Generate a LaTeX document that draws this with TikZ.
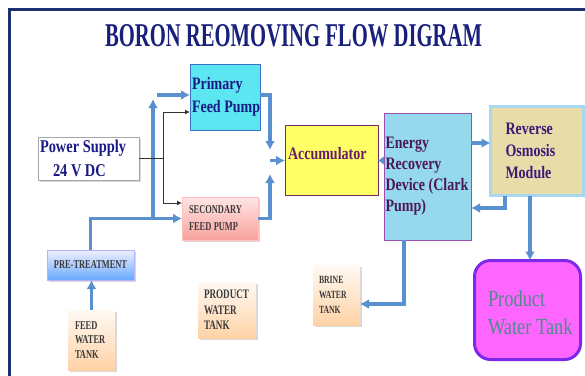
\documentclass[tikz,border=0pt]{standalone}
\usepackage{fontspec}
\setmainfont{Liberation Serif}
\newfontfamily\cf[FakeStretch=0.8]{Liberation Serif}
\newfontfamily\cs[FakeStretch=0.7]{Liberation Serif}
\newcommand\wsp{\hspace*{0.2em}}
\usetikzlibrary{arrows.meta,shadows}
\definecolor{framec}{HTML}{1D2F6F}
\definecolor{titlec}{HTML}{18207C}
\definecolor{flowc}{HTML}{5A8FD0}
\definecolor{primc}{HTML}{5CE6F2}
\definecolor{primb}{HTML}{3A70C8}
\definecolor{txtnavy}{HTML}{1A1A86}
\definecolor{txtgray}{HTML}{3A3A3A}
\definecolor{accc}{HTML}{FFFF66}
\definecolor{accb}{HTML}{7A2A6A}
\definecolor{acct}{HTML}{6A1B6A}
\definecolor{erdc}{HTML}{96D8EC}
\definecolor{erdb}{HTML}{9B4FB5}
\definecolor{erdt}{HTML}{4A1A5A}
\definecolor{roc}{HTML}{E8DCA8}
\definecolor{rob}{HTML}{A8D8F0}
\definecolor{rot}{HTML}{3D1A78}
\definecolor{ptc}{HTML}{FF66FF}
\definecolor{ptb}{HTML}{7C2AE8}
\definecolor{ptt}{HTML}{4F8A8A}
\begin{document}
\begin{tikzpicture}[x=1pt,y=-1pt,
  blk/.style={draw, inner sep=0pt, outer sep=0pt, align=left},
  soft/.style={drop shadow={shadow xshift=1.5pt, shadow yshift=-1.5pt, opacity=0.3}},
  tankbox/.style={blk, soft, draw=none, top color=white!70!orange!15, bottom color=orange!35!white,
     font={\cs\bfseries\fontsize{12}{14.5}\selectfont}, text=txtgray},
  flow/.style={draw=flowc, line width=3.5pt, -{Latex[length=9pt,width=10pt]}},
  ctlline/.style={draw=black!80, line width=1pt},
  ctl/.style={draw=black!80, line width=1pt, -{Latex[length=5pt,width=5pt]}}]
\useasboundingbox (0,0) rectangle (585,375);
\fill[white] (0,0) rectangle (585,375);
% frame
\draw[framec, line width=3pt] (9,376) -- (9,9) -- (586,9);
% title
\node[anchor=base, text=titlec, inner sep=0pt] (title) at (293.5,46)
  {\resizebox{377pt}{22pt}{\bfseries BORON REOMOVING FLOW DIGRAM}};

% boxes
\node[blk, fill=primc, draw=primb, line width=1pt, minimum width=70pt, minimum height=66pt,
  inner xsep=2pt, text width=66pt, text=txtnavy, font={\cf\bfseries\fontsize{17.5}{23}\selectfont}]
  (prim) at (225,97) {Primary\\Feed\wsp Pump};
\node[blk, soft, fill=white, draw=black!35, line width=0.8pt, minimum width=101pt, minimum height=43pt,
  inner xsep=2pt, text width=97pt, text=txtnavy, font={\cf\bfseries\fontsize{18}{24}\selectfont}]
  (power) at (88.5,158.5) {Power\wsp Supply\\\hspace*{13pt}24\wsp V\wsp DC};
\node[blk, soft, draw=red!25!white, top color=red!10!white, bottom color=red!35!white!90!brown,
  minimum width=76pt, minimum height=43pt, inner xsep=7pt, text width=62pt, text=txtgray,
  font={\cs\bfseries\fontsize{12}{17}\selectfont}]
  (sec) at (220,218.5) {SECONDARY\\FEED\wsp PUMP};
\node[blk, fill=accc, draw=accb, line width=1pt, minimum width=93pt, minimum height=70pt,
  inner xsep=3pt, text width=87pt, text depth=14pt, text=acct, font={\cf\bfseries\fontsize{17.5}{21}\selectfont}]
  (acc) at (331.5,160.5) {Accumulator};
\node[blk, fill=erdc, draw=erdb, line width=1pt, minimum width=87pt, minimum height=127pt,
  inner xsep=1.5pt, text width=84pt, text=erdt, font={\cf\bfseries\fontsize{17.5}{21}\selectfont}]
  (erd) at (427.5,176.5) {Energy\\Recovery\\Device\wsp(Clark\\Pump)};
\node[blk, fill=roc, draw=rob, line width=3pt, minimum width=93pt, minimum height=89pt,
  inner xsep=15pt, text width=63pt, text=rot, font={\cf\bfseries\fontsize{17.5}{22}\selectfont}]
  (ro) at (537,151) {Reverse\\Osmosis\\Module};
\node[blk, fill=ptc, draw=ptb, line width=3pt, rounded corners=16pt, minimum width=106pt, minimum height=99pt,
  inner xsep=13.5pt, text width=79pt, text depth=22pt, text=ptt, font={\cf\fontsize{23}{28}\selectfont}]
  (ptank) at (527.5,310) {Product\\Water\wsp Tank};
\node[blk, soft, draw=blue!30!white, top color=blue!6!white, bottom color=blue!45!white!75!cyan,
  minimum width=87pt, minimum height=30pt, align=center, text=txtgray,
  font={\cs\bfseries\fontsize{12}{14}\selectfont}]
  (pre) at (90.5,265) {PRE-TREATMENT};
\node[tankbox, minimum width=47pt, minimum height=60pt, inner xsep=7pt, text width=33pt]
  (feed) at (91.5,340) {FEED\\WATER\\TANK};
\node[tankbox, minimum width=58pt, minimum height=56pt, inner xsep=6pt, text width=46pt,
  font={\cs\bfseries\fontsize{13}{15.5}\selectfont}]
  (prod) at (227,310) {PRODUCT\\WATER\\TANK};
\node[tankbox, minimum width=47pt, minimum height=60pt, inner xsep=6pt, text width=35pt,
  font={\cs\bfseries\fontsize{11}{15}\selectfont}]
  (brine) at (336.5,295) {BRINE\\WATER\\TANK};

% junction coordinates
\coordinate (j2) at (153,218.5);
\coordinate (j3) at (153,99);
\coordinate (j4) at (157,95);
\coordinate (p1) at (163,158.5);
\coordinate (p2) at (163,112);
\coordinate (p3) at (163,203);
\coordinate (m1) at (270,95);
\coordinate (m2) at (270,150);
\coordinate (m3) at (270,218.5);
\coordinate (m4) at (270,174);
\coordinate (m5) at (270,160.5);
\coordinate (r1) at (480,143);
\coordinate (r2) at (505,208);
\coordinate (r3) at (530,200);
\coordinate (b1) at (404,304);

% flows
\draw[flow] (feed.north) -- (feed.north |- pre.south);
\draw[flow] (pre.north) |- (sec.west);
\draw[flow] (j2) -- (j3);
\draw[flow] (j4) -- (prim.west |- j4);
\draw[ctlline] (power.east) -- (p1);
\draw[ctlline] (p2) -- (p3);
\draw[ctl] (p2) -- (prim.west |- p2);
\draw[ctl] (p3) -- (sec.west |- p3);
\draw[flow] (prim.east |- m1) -- (m1) -- (m2);
\draw[flow] (sec.east) -- (m3) -- (m4);
\draw[flow] (m5) -- (acc.west);
\draw[draw=flowc, line width=3.5pt, -{Latex[length=6pt,width=9pt]}] (erd.west |- acc) -- (acc.east);
\draw[flow] (erd.east |- r1) -- (ro.west |- r1);
\draw[flow] (ro.south -| r2) -- (r2) -- (erd.east |- r2);
\draw[flow] (ro.south -| r3) -- (ptank.north -| r3);
\draw[flow] (erd.south -| b1) -- (b1) -- (brine.east |- b1);
\end{tikzpicture}
\end{document}
